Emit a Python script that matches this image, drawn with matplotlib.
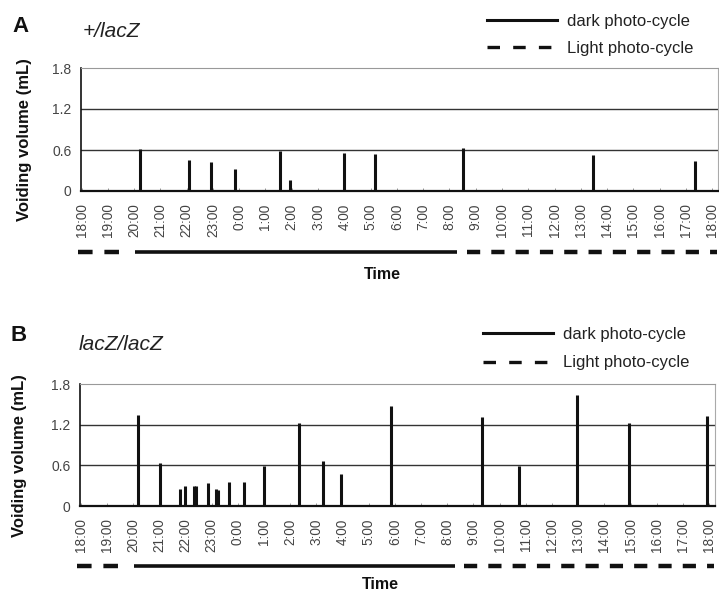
import matplotlib
matplotlib.use("Agg")
import matplotlib.pyplot as plt
from matplotlib.lines import Line2D

plt.rcParams['font.family'] = ['Liberation Sans', 'DejaVu Sans']
plt.rcParams['lines.scale_dashes'] = False

# ---- data ----
tick_labels = ['18:00', '19:00', '20:00', '21:00', '22:00', '23:00', '0:00', '1:00',
               '2:00', '3:00', '4:00', '5:00', '6:00', '7:00', '8:00', '9:00', '10:00',
               '11:00', '12:00', '13:00', '14:00', '15:00', '16:00', '17:00', '18:00']
y_ticks = [0, 0.6, 1.2, 1.8]
y_tick_labels = ['0', '0.6', '1.2', '1.8']

# hours elapsed since 18:00
hours_A = [2.24, 4.10, 4.91, 5.83, 7.57, 7.92, 9.98, 11.16, 14.50, 19.45, 23.35]
vol_A = [0.62, 0.45, 0.42, 0.32, 0.58, 0.16, 0.55, 0.54, 0.63, 0.53, 0.44]

hours_B = [2.19, 3.02, 3.79, 3.99, 4.34, 4.41, 4.86, 5.17, 5.24, 5.68, 6.23, 7.01,
           8.34, 9.27, 9.93, 11.87, 15.34, 16.75, 18.97, 20.93, 23.91]
vol_B = [1.35, 0.63, 0.25, 0.29, 0.30, 0.30, 0.34, 0.25, 0.24, 0.36, 0.36, 0.59,
         1.23, 0.66, 0.47, 1.47, 1.32, 0.59, 1.64, 1.22, 1.33]

# photo-cycle segments (hours since 18:00)
light_1 = [-0.12, 1.45]
dark = [2.05, 14.3]
light_2 = [14.65, 24.2]

W, H = 719, 592
fig = plt.figure(figsize=(W / 100, H / 100), dpi=100)
fig.patch.set_facecolor('white')


def fx(px):
    return px / W


def fy(py):
    return 1 - py / H


def panel(left, right, top, bottom, hours, vols, letter, letter_xy, title, title_xy,
          leg_xy, leg_sp, ylab_x, time_xy, cyc_y):
    ax = fig.add_axes([fx(left), fy(bottom), fx(right - left), (bottom - top) / H])
    ax.vlines(hours, 0, vols, color='#111111', lw=2.2, zorder=3)
    ax.set_xlim(-0.02, 24.22)
    ax.set_ylim(0, 1.8)
    ax.set_xticks(range(25))
    ax.set_xticklabels(tick_labels, rotation=90, fontsize=9.8, color='#444444')
    ax.set_yticks(y_ticks)
    ax.set_yticklabels(y_tick_labels, fontsize=10, color='#444444')
    ax.tick_params(axis='x', direction='in', length=2.5, width=0.6, color='#888888', pad=9)
    ax.tick_params(axis='y', length=0, pad=7)
    for yv in [0.6, 1.2]:
        ax.axhline(yv, color='#333333', lw=1.0, zorder=1)
    ax.spines['top'].set_color('#999999')
    ax.spines['top'].set_linewidth(0.8)
    ax.spines['right'].set_color('#aaaaaa')
    ax.spines['right'].set_linewidth(0.8)
    ax.spines['left'].set_color('#111111')
    ax.spines['left'].set_linewidth(1.2)
    ax.spines['bottom'].set_color('#111111')
    ax.spines['bottom'].set_linewidth(1.6)

    ax.set_ylabel('Voiding volume (mL)', fontsize=12, fontweight='bold', color='#111111')
    ax.yaxis.set_label_coords((ylab_x - left) / (right - left), 0.415)
    ax.set_xlabel('Time', fontsize=11.5, fontweight='bold', color='#111111')
    ax.xaxis.set_label_coords((time_xy[0] - left) / (right - left), (bottom - time_xy[1]) / (bottom - top))

    trans = ax.get_xaxis_transform()
    yc = (bottom - cyc_y) / (bottom - top)
    ax.plot(light_1, [yc, yc], transform=trans, clip_on=False, color='#111111', lw=3.2,
            linestyle=(0, (10.5, 8.5)), dash_capstyle='butt')
    ax.plot(dark, [yc, yc], transform=trans, clip_on=False, color='#111111', lw=2.6,
            solid_capstyle='butt')
    ax.plot(light_2, [yc, yc], transform=trans, clip_on=False, color='#111111', lw=3.2,
            linestyle=(0, (9.5, 8.0)), dash_capstyle='butt')

    handles = [Line2D([], [], color='#111111', lw=2.2),
               Line2D([], [], color='#111111', lw=2.4, linestyle=(0, (9, 9.5)))]
    fig.legend(handles, ['dark photo-cycle', 'Light photo-cycle'], loc='upper left',
               bbox_to_anchor=(fx(leg_xy[0]), fy(leg_xy[1])), frameon=False,
               fontsize=12, handlelength=4.2, handletextpad=0.6, labelspacing=leg_sp,
               borderpad=0, borderaxespad=0, labelcolor='#222222')

    fig.text(fx(letter_xy[0]), fy(letter_xy[1]), letter, fontsize=16, fontweight='bold',
             va='baseline', ha='left', color='#111111')
    fig.text(fx(title_xy[0]), fy(title_xy[1]), title, fontsize=15, style='italic',
             va='baseline', ha='left', color='#222222')
    return ax


panel(81, 718, 68, 191, hours_A, vol_A, 'A', (12, 32), '+/lacZ', (83, 37),
      (487, 14), 0.7, 32, (382, 267), 252)
panel(80, 715, 384, 506, hours_B, vol_B, 'B', (10, 341), 'lacZ/lacZ', (79, 350),
      (483, 327), 0.8, 27, (380, 577), 566)

fig.savefig('out.png', dpi=100, facecolor='white')
